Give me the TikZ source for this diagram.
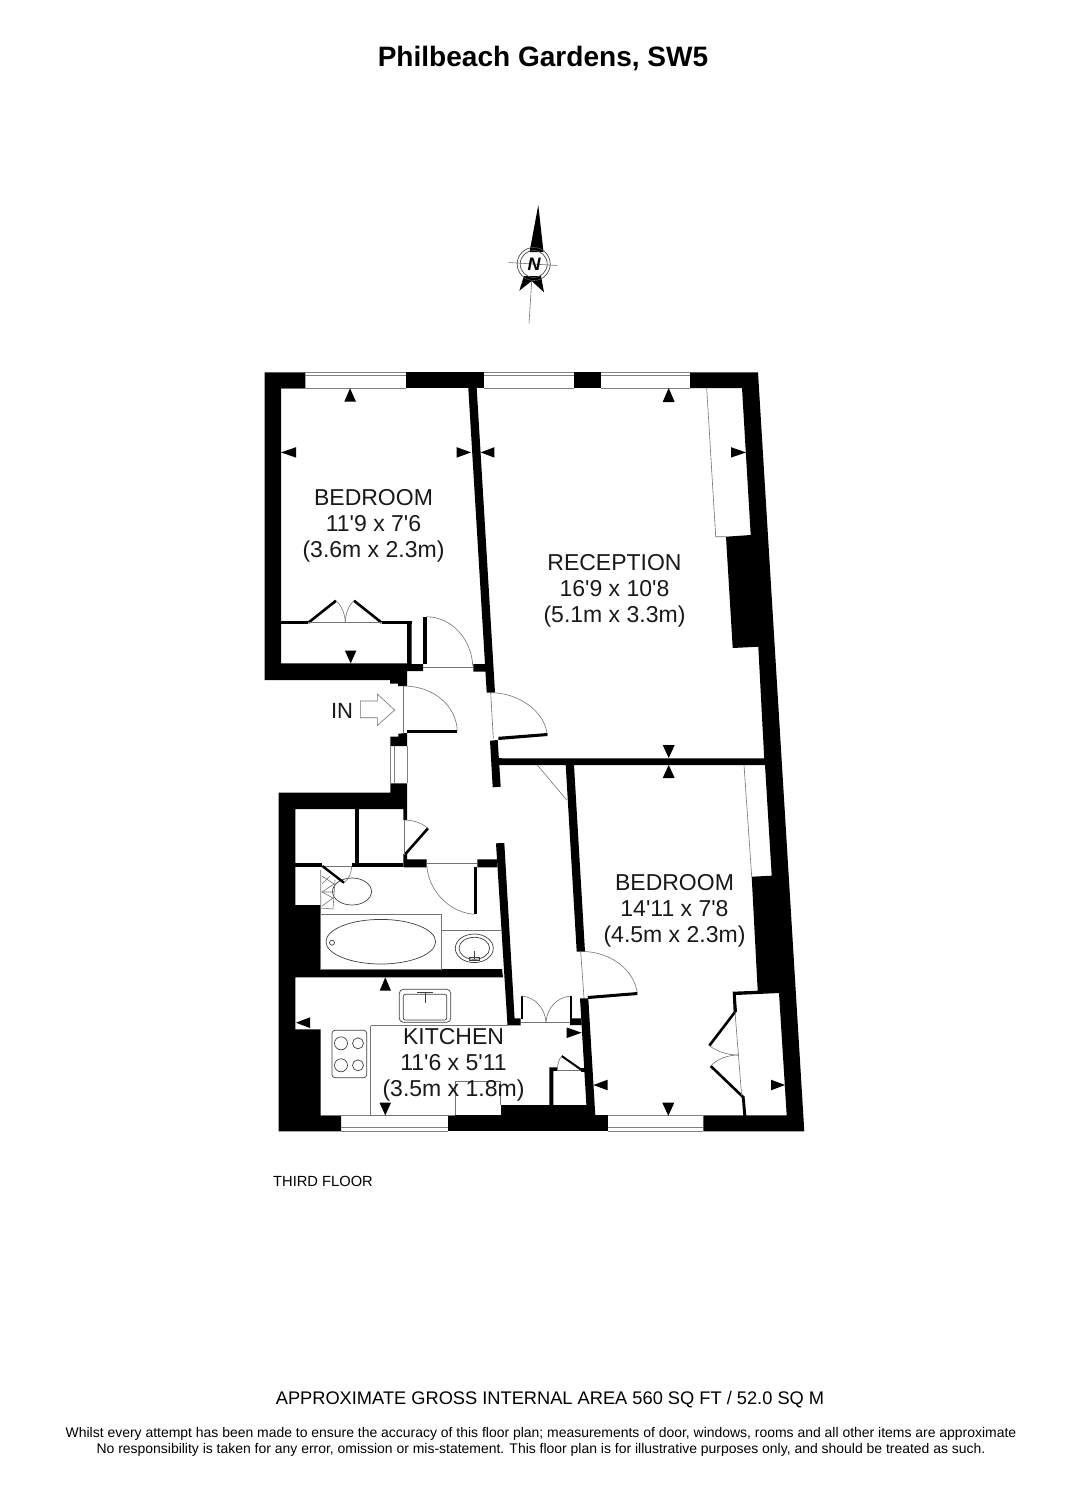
\documentclass[tikz,border=0pt]{standalone}
\usepackage{fontspec}
\setmainfont{Liberation Sans}
\newfontfamily\roomfont{Liberation Sans}
\tikzset{
  wall/.style={fill=black,draw=none},
  leaf/.style={draw=black,line width=2.6pt,line cap=butt},
  thin/.style={draw=black!55,line width=0.6pt},
  glass/.style={draw=black!50,line width=0.8pt},
  fitting/.style={draw=black!75,line width=0.7pt},
  dimtip/.style={fill=black,draw=none},
  room/.style={font=\roomfont\fontsize{23}{26}\selectfont,align=center,inner sep=0pt,text=black!90},
}
\begin{document}
\begin{tikzpicture}[x=1pt,y=-1pt]
\useasboundingbox (0,0) rectangle (1067,1500);
\fill[white] (0,0) rectangle (1067,1500);
% titles
\node[font=\fontsize{28.05}{32}\selectfont\bfseries,inner sep=0pt] (title) at (543,58.5) {Philbeach Gardens, SW5};
\node[font=\fontsize{14.7}{16}\selectfont,inner sep=0pt,anchor=west] (floor) at (273,1181.5) {THIRD FLOOR};
\node[font=\fontsize{18.25}{20}\selectfont,inner sep=0pt] (area) at (550,1399.5) {APPROXIMATE GROSS INTERNAL AREA 560 SQ FT / 52.0 SQ M};
\node[font=\fontsize{13.95}{16}\selectfont,inner sep=0pt,align=center] (disc) at (541,1441.5) {Whilst every attempt has been made to ensure the accuracy of this floor plan; measurements of door, windows, rooms and all other items are approximate\\No responsibility is taken for any error, omission or mis-statement. This floor plan is for illustrative purposes only, and should be treated as such.};
% north point
\fill (538.3,205) -- (543.5,252) -- (529.5,252) -- cycle;
\fill (524,276) -- (519.3,290.7) -- (531.7,281) -- (544,292.3) -- (541,276) -- cycle;
\draw[thin] (509,262.5) -- (557,265.5);
\draw[thin] (531.7,281) -- (529,323.3);
\draw[black!70,line width=.7pt] (533.7,264) circle (16.5);
\draw[black!70,line width=.7pt] (533.7,264) circle (13.5);
\node[font=\fontsize{18}{18}\selectfont\bfseries\itshape,inner sep=0pt] (north) at (534,264.5) {N};
% outer walls - top
\fill[wall] (264.7,372.3) -- (305.3,372.3) -- (305.3,388) -- (281,388) -- (281,663.3) -- (407,663.3) -- (407,624) -- (411.7,624) -- (411.7,664) -- (423,664) -- (423,671) -- (407,671) -- (407,686) -- (398,686) -- (398,683.5) -- (390,683.5) -- (390,680) -- (264.7,680) -- cycle;
\fill[wall] (406.3,372.3) rectangle (484,388);
\fill[wall] (574,372.3) rectangle (600.7,388);
% right wall
\fill[wall] (690,372.3) -- (758,372.3) -- (804.3,1131.3) -- (703.3,1131.3) -- (703.3,1115.3) -- (743.3,1115.3) -- (741.7,1096) -- (744.5,1096) -- (746.3,1115.3) -- (786.7,1115.3) -- (779,993) -- (735.8,995) -- (737,1012) -- (733.6,1012) -- (732.7,991.7) -- (757.7,990.7) -- (751.7,876.7) -- (771.7,875.7) -- (765,765) -- (500,765) -- (500,758.3) -- (764.2,758.3) -- (758.3,646.7) -- (732.7,648) -- (726,536.7) -- (750.7,535) -- (742,388) -- (690,388) -- cycle;
% bedroom / reception wall
\fill[wall] (468.3,388) -- (476.7,388) -- (495,692.5) -- (486.7,692.5) -- cycle;
\fill[wall] (473.3,664) -- (486,664) -- (487,671.7) -- (473.3,671.7) -- cycle;
% wardrobe doors bedroom 1
\fill[wall] (281,620.7) rectangle (308.3,624);
\fill[wall] (381.7,620.7) rectangle (411.7,624);
\draw[leaf] (308.3,622.7) -- (336,600.7);
\draw[leaf] (381.7,622.7) -- (354,600.7);
\draw[thin] (308,622.7) -- (381.7,622.7);
\draw[thin] (336,600.7) .. controls (342,606) and (345,614) .. (345.3,622.7);
\draw[thin] (354,600.7) .. controls (348,606) and (345.5,614) .. (345.3,622.7);
% bedroom 1 door
\fill[wall] (422.7,616.7) rectangle (426.7,664);
\draw[thin] (426.7,616.7) .. controls (452,617) and (472,640) .. (472.7,666);
\draw[thin] (423,667.7) -- (473.3,667.7);
% entrance door
\draw[thin] (403.3,686) -- (403.3,733);
\draw[thin] (403.3,686) .. controls (433,686) and (456,705) .. (457.3,730.7);
\fill[wall] (407,730) rectangle (457.3,733.3);
\fill[wall] (390.3,736.7) -- (398.3,736.7) -- (398.3,733.7) -- (407,733) -- (407,746) -- (390.3,746) -- cycle;
% side window
\draw[glass] (390.3,746) -- (390.3,783.3) (394.3,746) -- (394.3,783.3) (407,746) -- (407,783.3);
\fill[wall] (390.3,783.3) -- (407,783.3) -- (407,820) -- (403.3,820) -- (403.3,809) -- (295.3,809) -- (295.3,905) -- (320.7,905) -- (320.7,969) -- (502,969) -- (503,977.3) -- (295.3,977.3) -- (295.3,1029.3) -- (320.7,1029.3) -- (320.7,1115.3) -- (341,1115.3) -- (341,1131.3) -- (278.7,1131.3) -- (278.7,792.7) -- (390.3,792.7) -- cycle;
% cupboards
\fill[wall] (355,809) rectangle (359.3,864);
\fill[wall] (295.3,863) rectangle (321.7,867);
\fill[wall] (351.7,863.3) rectangle (403.3,867.3);
\fill[wall] (403.3,854) -- (407,854) -- (407,859.3) -- (426.7,859.3) -- (426.7,867.3) -- (403.3,867.3) -- cycle;
\draw[leaf] (404.5,855) -- (428,828.3);
\draw[thin] (404.6,820) -- (404.6,855);
\draw[thin] (404,820) .. controls (413,820) and (422,823) .. (428,828.3);
% bathroom door
\draw[thin] (426.7,863) -- (477.3,863);
\fill[wall] (477.3,859.3) -- (497,859.3) -- (497.4,867.3) -- (477.3,867.3) -- cycle;
\fill[wall] (474,867) rectangle (477.3,914.3);
\draw[thin] (426.7,863) .. controls (427,888) and (447,912) .. (474,914.3);
% corridor wall lower
\fill[wall] (496,843.3) -- (504.3,843) -- (514.6,1018.3) -- (520.7,1018.3) -- (520.7,1025.3) -- (507.5,1025.3) -- cycle;
% reception door
\draw[thin] (490.7,692.7) -- (493.3,738.3);
\draw[thin] (491,692.7) .. controls (520,693) and (545,712) .. (547.3,735);
\fill[wall] (498.3,736.8) -- (547.3,733) -- (547.5,736) -- (498.5,740) -- cycle;
\fill[wall] (490,740.7) -- (497.7,740) -- (500.7,786.7) -- (492.7,787.3) -- cycle;
\fill[wall] (497.7,758.3) rectangle (502,765);
\draw[thin] (537.3,765) -- (566.7,800);
% bedroom 2 wall upper / lower
\fill[wall] (565.7,765) -- (574,765) -- (585,951.7) -- (576.7,951.7) -- cycle;
\draw[thin] (580.7,951.7) -- (584,998);
\fill[wall] (580,998.3) -- (588.3,998.3) -- (595.3,1115.3) -- (587,1115.3) -- cycle;
\fill[wall] (587.7,996) -- (637.3,992) -- (637.5,995) -- (588,999) -- cycle;
\draw[thin] (585,951.5) .. controls (612,953) and (634,970) .. (637.3,993);
% kitchen double doors
\draw[leaf,line width=2pt] (521.5,996) -- (521.5,1018.5);
\draw[leaf,line width=2pt] (571,996) -- (571,1019);
\draw[thin] (520.7,1022.3) -- (571.7,1022.3);
\draw[thin] (521.5,996) .. controls (535,997) and (545,1008) .. (546,1022.3);
\draw[thin] (571,996) .. controls (557,997) and (547,1008) .. (546,1022.3);
\fill[wall] (570,1018.3) -- (581,1018.3) -- (581.7,1025) -- (570,1025) -- cycle;
% bottom walls
\fill[wall] (448.3,1115.3) rectangle (608.3,1131.3);
\fill[wall] (500.7,1105) rectangle (592,1115.3);
% kitchen store
\fill[wall] (549.3,1067.3) -- (557.3,1067.3) -- (557.3,1070.7) -- (553.3,1071) -- (553.3,1105) -- (549.3,1105) -- cycle;
\draw[thin] (557,1070) -- (584,1070);
\draw[leaf,line width=2pt] (561.7,1056) -- (581.7,1070);
\draw[thin] (557.3,1070) .. controls (557.5,1064) and (559,1059) .. (561.7,1056);
\fill[wall] (580.5,1068) rectangle (585,1072);
% wardrobe bedroom 2
\draw[leaf] (735,1012) -- (709.3,1045.7);
\draw[leaf] (710.7,1066) -- (743,1097);
\draw[thin] (735,1012) -- (741.7,1096);
\draw[thin] (709.3,1045.7) .. controls (718,1052) and (728,1055) .. (738.3,1055);
\draw[thin] (710.7,1066) .. controls (717,1059) and (728,1055) .. (738.3,1055);
% reception and bedroom 2 cupboard lines
\draw[thin] (706.7,388) -- (715.7,536.7) -- (726,536.7);
\draw[thin] (744,765) -- (751.7,876.7);
% windows
\foreach \a/\b/\top/\mid/\bot in {305.3/406.3/372.3/375.7/388,484/574/372.3/375.7/388,600.7/690/372.3/375.7/388,341/448.3/1115.3/1127.7/1131.3,608.3/703.3/1115.3/1127.7/1131.3}{
  \draw[glass] (\a,\top) -- (\b,\top) (\a,\mid) -- (\b,\mid) (\a,\bot) -- (\b,\bot);
}
% guide lines round rooms
\draw[thin] (281,388) -- (305.3,388);
\draw[thin] (320.7,1115.3) -- (341,1115.3);
% bathroom
\draw[thin] (320.7,914) rectangle (441.7,969);
\draw[fitting] (380.8,941.7) ellipse (54.8 and 22.3);
\draw[fitting] (332,942.7) circle (2.5);
\draw[thin] (441.7,930) -- (501.7,930);
\draw[fitting] (474.3,948.3) ellipse (19 and 14.3);
\draw[fitting] (474.3,948.3) ellipse (15.3 and 11);
\draw[fitting] (474.3,951) -- (474.3,959) (469,960) rectangle (479.5,957.5);
% wc
\draw[fitting] (352,891.5) ellipse (19.5 and 13.5);
\draw[thin] (320.7,870) -- (320.7,908) -- (333,909) -- (335,880);
\draw[thin] (322,876) -- (334,884) -- (322,892) -- (333,898) -- (322,906);
\draw[thin] (322,884) -- (330,876) (322,892) -- (334,892);
\fill[white] (321.7,863.4) rectangle (351.7,866.6);
\draw[thin] (321.7,866) -- (351.7,866);
\draw[leaf,line width=2.4pt] (322.3,866) -- (344,882.7);
\draw[thin] (351.7,866) .. controls (351.5,873) and (349,879) .. (344,882.7);
% kitchen
\draw[thin] (370.7,1025.7) -- (507.5,1025.7);
\draw[thin] (370.7,1025.7) -- (370.7,1115.3);
\draw[thin] (455,1115.3) -- (455,1081.7) -- (500.7,1081.7) -- (500.7,1105);
\draw[thin] (370.7,1115.3) -- (455,1115.3);
\draw[fitting,rounded corners=4pt] (399.3,989.3) rectangle (450.7,1022.3);
\draw[fitting,rounded corners=2pt] (403.3,994.3) rectangle (446.7,1020);
\draw[fitting] (417,992.7) -- (433,992.7) (425,992.7) -- (425,1003);
\draw[fitting,rounded corners=3pt] (332,1030.3) rectangle (366.7,1077.7);
\draw[fitting] (341,1043.3) circle (6.5) (358,1043.3) circle (5.5) (341,1065.3) circle (6.5) (358,1065.3) circle (5.5);
% dimension marks
\fill[dimtip] (350,388.3) -- (356,401.7) -- (344.3,401.7) -- cycle;
\fill[dimtip] (281,452.4) -- (296,447.2) -- (296,457.6) -- cycle;
\fill[dimtip] (471,452.4) -- (456.7,447.2) -- (456.7,457.6) -- cycle;
\fill[dimtip] (480.7,452.4) -- (494.3,447.2) -- (494.3,457.6) -- cycle;
\fill[dimtip] (350.7,663.3) -- (344.9,650.7) -- (356.4,650.7) -- cycle;
\fill[dimtip] (668.7,388) -- (674.7,402) -- (662.7,402) -- cycle;
\fill[dimtip] (746,452.4) -- (731,447.2) -- (731,457.6) -- cycle;
\fill[dimtip] (668.7,758) -- (662.7,745) -- (674.7,745) -- cycle;
\fill[dimtip] (668.7,765) -- (662.7,778) -- (674.7,778) -- cycle;
\fill[dimtip] (593.3,1085) -- (607.7,1079.7) -- (607.7,1090.3) -- cycle;
\fill[dimtip] (668.3,1115.7) -- (662.3,1102.7) -- (674.3,1102.7) -- cycle;
\fill[dimtip] (785,1085) -- (771,1079.7) -- (771,1090.3) -- cycle;
\fill[dimtip] (581.7,1032.7) -- (566.7,1027.5) -- (566.7,1038) -- cycle;
\fill[dimtip] (385.3,977.3) -- (391,990.7) -- (379.7,990.7) -- cycle;
\fill[dimtip] (296,1022.7) -- (310,1017.3) -- (310,1028) -- cycle;
\fill[dimtip] (385.3,1115.3) -- (379.5,1102.7) -- (391,1102.7) -- cycle;
% IN arrow
\node[font=\fontsize{22}{24}\selectfont,inner sep=0pt,text=black!90] (inlabel) at (342,710.5) {IN};
\draw[thin,fill=white] (360.3,701) -- (377.3,701) -- (377.3,694) -- (394.7,710) -- (377.3,725.5) -- (377.3,717.7) -- (360.3,717.7) -- cycle;
% rooms
\node[room] (bedone) at (373.5,525.7) {BEDROOM\\11'9 x 7'6\\(3.6m x 2.3m)};
\node[room] (reception) at (614.5,591) {RECEPTION\\16'9 x 10'8\\(5.1m x 3.3m)};
\node[room] (bedtwo) at (674.5,910.7) {BEDROOM\\14'11 x 7'8\\(4.5m x 2.3m)};
\node[room] (kitchen) at (453.5,1065) {KITCHEN\\11'6 x 5'11\\(3.5m x 1.8m)};
\end{tikzpicture}
\end{document}
